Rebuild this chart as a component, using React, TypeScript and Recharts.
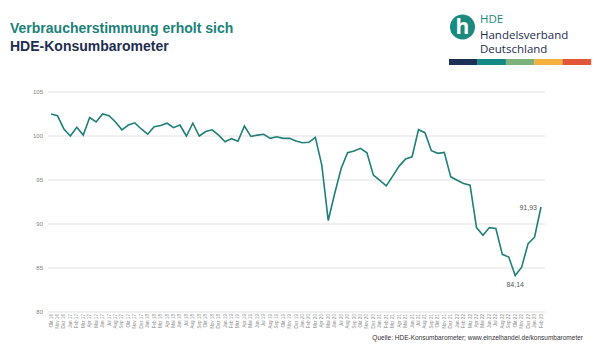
import React from "react";
import { LineChart, Line, XAxis, YAxis, CartesianGrid, LabelList } from "recharts";

const months = [
  "Okt 16", "Nov 16", "Dez 16",
  "Jan 17", "Feb 17", "Mrz 17", "Apr 17", "Mai 17", "Jun 17", "Jul 17", "Aug 17", "Sep 17", "Okt 17", "Nov 17", "Dez 17",
  "Jan 18", "Feb 18", "Mrz 18", "Apr 18", "Mai 18", "Jun 18", "Jul 18", "Aug 18", "Sep 18", "Okt 18", "Nov 18", "Dez 18",
  "Jan 19", "Feb 19", "Mrz 19", "Apr 19", "Mai 19", "Jun 19", "Jul 19", "Aug 19", "Sep 19", "Okt 19", "Nov 19", "Dez 19",
  "Jan 20", "Feb 20", "Mrz 20", "Apr 20", "Mai 20", "Jun 20", "Jul 20", "Aug 20", "Sep 20", "Okt 20", "Nov 20", "Dez 20",
  "Jan 21", "Feb 21", "Mrz 21", "Apr 21", "Mai 21", "Jun 21", "Jul 21", "Aug 21", "Sep 21", "Okt 21", "Nov 21", "Dez 21",
  "Jan 22", "Feb 22", "Mrz 22", "Apr 22", "Mai 22", "Jun 22", "Jul 22", "Aug 22", "Sep 22", "Okt 22", "Nov 22", "Dez 22",
  "Jan 23", "Feb 23",
];

const barometer = [
  102.5, 102.3, 100.8,
  100.0, 101.0, 100.1, 102.1, 101.6, 102.5, 102.3, 101.6, 100.7, 101.25, 101.5, 100.8,
  100.2, 101.05, 101.2, 101.45, 100.95, 101.25, 100.0, 101.45, 100.0, 100.5, 100.7, 100.1,
  99.35, 99.7, 99.4, 101.14, 99.95, 100.1, 100.2, 99.73, 99.92, 99.73, 99.73, 99.43,
  99.24, 99.28, 99.85, 96.7, 90.4, 93.47, 96.3, 98.1, 98.3, 98.6, 98.1, 95.55,
  94.95, 94.33, 95.44, 96.58, 97.38, 97.64, 100.72, 100.38, 98.33, 98.03, 98.14, 95.36,
  94.98, 94.6, 94.41, 89.59, 88.71, 89.59, 89.48, 86.55, 86.24, 84.14, 85.1, 87.77,
  88.5, 91.93,
];

const yTicks = [80, 85, 90, 95, 100, 105];

const data = months.map((m, i) => ({ month: m, value: barometer[i] }));

const minIndex = barometer.indexOf(Math.min(...barometer));
const lastIndex = barometer.length - 1;

const TEAL = "#1f7f79";
const NAVY = "#1d2d50";

function MonthTick(props: any) {
  const { x, y, payload } = props;
  return (
    <text
      x={x}
      y={y}
      transform={`rotate(-90, ${x}, ${y})`}
      textAnchor="end"
      dominantBaseline="central"
      fontSize={4.6}
      fill="#8a8a8a"
      fontFamily="Liberation Sans, Arial, sans-serif"
    >
      {payload.value}
    </text>
  );
}

function ValueLabel(props: any) {
  const { x, y, value, index } = props;
  const txt = Number(value).toFixed(2).replace(".", ",");
  if (index === minIndex) {
    return (
      <text x={x} y={y + 9} textAnchor="middle" dominantBaseline="central" fontSize={7} fill="#555">
        {txt}
      </text>
    );
  }
  if (index === lastIndex) {
    return (
      <text x={x - 4} y={y} textAnchor="end" dominantBaseline="central" fontSize={7} fill="#555">
        {txt}
      </text>
    );
  }
  return null;
}

export default function App() {
  const stripe = ["#1c3058", "#148a86", "#7db27c", "#f5b23f", "#e2573b"];
  return (
    <div
      style={{
        position: "absolute",
        left: 0,
        top: 0,
        width: 600,
        height: 357,
        background: "#fff",
        fontFamily: "Liberation Sans, Arial, sans-serif",
        overflow: "hidden",
      }}
    >
      <div style={{ position: "absolute", left: 10, top: 19, fontSize: 14, fontWeight: 700, lineHeight: "18px" }}>
        <div style={{ color: "#1a8279" }}>Verbraucherstimmung erholt sich</div>
        <div style={{ color: NAVY }}>HDE-Konsumbarometer</div>
      </div>

      <svg style={{ position: "absolute", left: 0, top: 0 }} width={600} height={70}>
        <circle cx={462.5} cy={27} r={12.5} fill="#1a8a80" />
        <text x={462.5} y={34} textAnchor="middle" fontSize={21} fontWeight={700} fill="#fff" fontFamily="Open Sans, sans-serif">
          h
        </text>
        <text x={480} y={23} fontSize={11.5} fill="#1a8a80" fontFamily="Open Sans, sans-serif">HDE</text>
        <text x={480} y={38.5} fontSize={11.5} fill={NAVY} fontFamily="Open Sans, sans-serif">Handelsverband</text>
        <text x={480} y={52.5} fontSize={11.5} fill={NAVY} fontFamily="Open Sans, sans-serif">Deutschland</text>
        {stripe.map((c, i) => (
          <rect key={c} x={449 + i * 28.4} y={59} width={28.6} height={6} fill={c} />
        ))}
      </svg>

      <div style={{ position: "absolute", left: 0, top: 0 }}>
        <LineChart width={600} height={357} data={data} margin={{ top: 92, right: 55, bottom: 15, left: 8 }}>
          <CartesianGrid vertical={false} stroke="#e2e2e2" />
          <XAxis
            dataKey="month"
            interval={0}
            tick={<MonthTick />}
            tickLine={false}
            axisLine={false}
            tickSize={0}
            tickMargin={2}
            height={30}
            padding={{ left: 3, right: 4 }}
          />
          <YAxis
            domain={[80, 105]}
            ticks={yTicks}
            tickLine={false}
            axisLine={false}
            tickSize={0}
            tickMargin={5}
            width={40}
            tick={{ fontSize: 6, fill: "#7f7f7f" }}
          />
          <Line
            type="linear"
            dataKey="value"
            stroke={TEAL}
            strokeWidth={1.6}
            dot={false}
            isAnimationActive={false}
          >
            <LabelList dataKey="value" content={<ValueLabel />} />
          </Line>
        </LineChart>
      </div>

      <div style={{ position: "absolute", right: 17, top: 334, fontSize: 6.5, color: "#333", whiteSpace: "nowrap" }}>
        Quelle: HDE-Konsumbarometer; www.einzelhandel.de/konsumbarometer
      </div>
    </div>
  );
}
